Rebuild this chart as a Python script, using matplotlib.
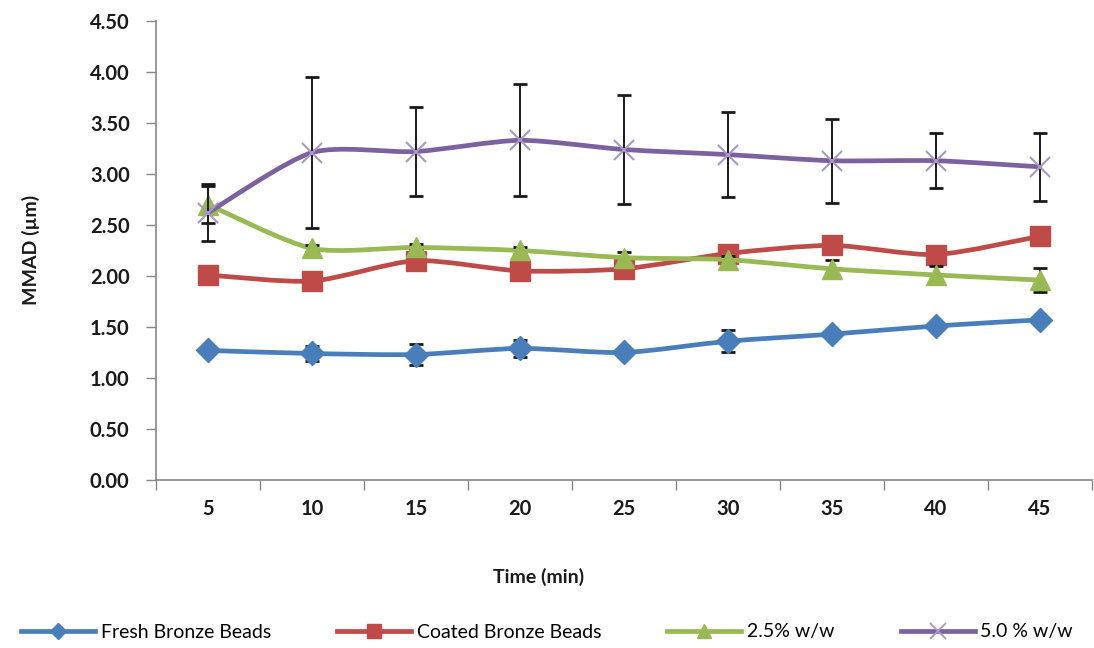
import matplotlib
matplotlib.use("Agg")
import matplotlib.pyplot as plt
from matplotlib.path import Path
from matplotlib.patches import PathPatch
from matplotlib.lines import Line2D
import numpy as np

plt.rcParams['font.family'] = ['Lato', 'DejaVu Sans']

# Sampling times (min)
times = ['5', '10', '15', '20', '25', '30', '35', '40', '45']

# MMAD (µm) and standard deviations
fresh = [1.27, 1.24, 1.23, 1.29, 1.25, 1.36, 1.43, 1.51, 1.57]
fresh_err = [0.02, 0.07, 0.10, 0.08, 0.02, 0.11, 0.02, 0.02, 0.02]

coated = [2.01, 1.95, 2.15, 2.05, 2.07, 2.22, 2.30, 2.21, 2.39]
coated_err = [0.03, 0.03, 0.04, 0.03, 0.03, 0.04, 0.03, 0.03, 0.03]

w25 = [2.70, 2.27, 2.28, 2.25, 2.18, 2.16, 2.07, 2.01, 1.96]
w25_err = [0.18, 0.03, 0.03, 0.03, 0.06, 0.04, 0.09, 0.09, 0.12]

w50 = [2.62, 3.21, 3.22, 3.33, 3.24, 3.19, 3.13, 3.13, 3.07]
w50_err = [0.28, 0.74, 0.44, 0.55, 0.53, 0.42, 0.41, 0.27, 0.33]

series = [
    ("Fresh Bronze Beads", fresh, fresh_err, '#4A7EBB', 'D', 12, '#4A7EBB'),
    ("Coated Bronze Beads", coated, coated_err, '#BE4B48', 's', 15, '#BE4B48'),
    ("2.5% w/w", w25, w25_err, '#98B954', '^', 15, '#98B954'),
    ("5.0 % w/w", w50, w50_err, '#7D60A0', 'x', 14, '#A898C4'),
]


def smooth_path(x, y, k=1.0 / 8.0):
    """Cubic Bezier path through the points (Catmull-Rom style tangents)."""
    pts = np.column_stack([x, y]).astype(float)
    n = len(pts)
    verts = [pts[0]]
    codes = [Path.MOVETO]
    for i in range(n - 1):
        p0 = pts[i - 1] if i > 0 else pts[i]
        p1 = pts[i]
        p2 = pts[i + 1]
        p3 = pts[i + 2] if i + 2 < n else pts[i + 1]
        c1 = p1 + (p2 - p0) * k
        c2 = p2 - (p3 - p1) * k
        verts += [c1, c2, p2]
        codes += [Path.CURVE4] * 3
    return Path(verts, codes)


fig = plt.figure(figsize=(10.94, 6.48), dpi=100)
ax = fig.add_axes([0.1426, 0.2593, 0.998 - 0.1426, 0.9676 - 0.2593])

x = np.arange(1, len(times) + 1)
handles = []
for k, (name, vals, errs, color, mk, ms, mcol) in enumerate(series):
    z = 3 + k
    patch = PathPatch(smooth_path(x, vals), facecolor='none', edgecolor=color,
                      lw=3.4, zorder=z, capstyle='round', joinstyle='round')
    ax.add_patch(patch)
    ax.errorbar(x, vals, yerr=errs, fmt='none', ecolor='#1a1a1a', elinewidth=1.4,
                capsize=5, capthick=2.0, zorder=z + 0.1)
    if mk == 'x':
        ax.plot(x, vals, ls='none', marker=mk, ms=ms, mew=1.5, color=mcol, zorder=z + 0.2)
    else:
        ax.plot(x, vals, ls='none', marker=mk, ms=ms, mec=color, mfc=color, zorder=z + 0.2)
    if mk == 'x':
        h = Line2D([], [], color=color, lw=3.4, marker=mk, ms=11, mew=1.3, mec=mcol)
    else:
        h = Line2D([], [], color=color, lw=3.4, marker=mk, ms=8 if mk == 'D' else 10,
                   mfc=color, mec=color)
    handles.append(h)

ax.set_xlim(0.5, len(times) + 0.5)
ax.set_ylim(0, 4.5)

yt = np.arange(0, 4.51, 0.5)
ax.set_yticks(yt)
ax.set_yticklabels([f"{v:.2f}" for v in yt])

# category boundaries carry the tick marks, labels sit at the centres
ax.set_xticks(np.arange(0.5, len(times) + 1, 1.0))
ax.set_xticklabels([])
ax.set_xticks(x, minor=True)
ax.set_xticklabels(times, minor=True)
ax.tick_params(axis='x', which='major', direction='out', length=7, width=1, color='#868686')
ax.tick_params(axis='x', which='minor', length=0, pad=14, labelsize=14.5)
ax.tick_params(axis='y', direction='out', length=7, width=1, color='#868686', pad=12, labelsize=14.5)
for lab in ax.get_xticklabels(minor=True) + ax.get_yticklabels():
    lab.set_fontweight('bold')
    lab.set_color('#1a1a1a')

for s in ['top', 'right']:
    ax.spines[s].set_visible(False)
for s in ['left', 'bottom']:
    ax.spines[s].set_color('#868686')
    ax.spines[s].set_linewidth(1.2)

fig.text(0.028, (648 - 250) / 648, 'MMAD (µm)', rotation=90, ha='center', va='center',
         fontsize=14, fontweight='bold', color='#1a1a1a')
fig.text(0.492, (648 - 577) / 648, 'Time (min)', ha='center', va='center',
         fontsize=14, fontweight='bold', color='#1a1a1a')

fig.legend(handles, [s[0] for s in series], loc='center', bbox_to_anchor=(0.5, (648 - 632) / 648),
           ncol=4, frameon=False, fontsize=14, handlelength=3.8, columnspacing=3.4,
           handletextpad=0.3)

fig.savefig('out.png', dpi=100, facecolor='white')
